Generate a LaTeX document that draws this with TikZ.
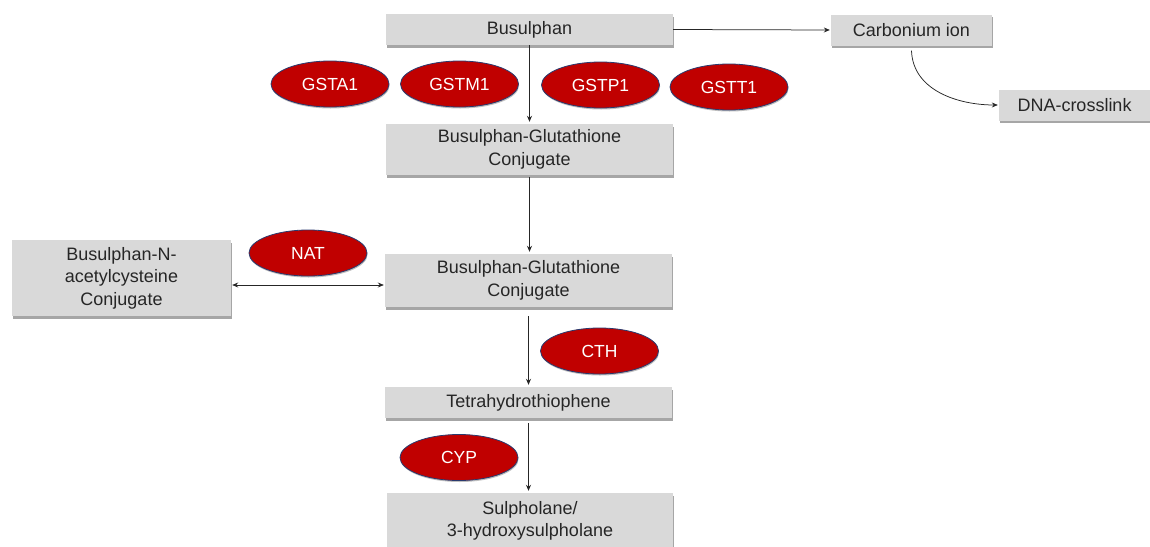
\documentclass[tikz,border=0pt]{standalone}
\usepackage{fontspec}
\setmainfont{Liberation Sans}
\usetikzlibrary{shapes.geometric,shadows,arrows.meta}
\definecolor{boxfill}{HTML}{D9D9D9}
\definecolor{boxtext}{HTML}{262626}
\definecolor{enzred}{HTML}{C00000}
\definecolor{enzline}{HTML}{2A3A6E}
\begin{document}
\begin{tikzpicture}[x=1pt,y=-1pt,
  pbox/.style={rectangle, fill=boxfill, text=boxtext, align=center, inner sep=0pt,
    font=\fontsize{18}{22.5}\selectfont,
    drop shadow={shadow xshift=0.8pt, shadow yshift=-2.8pt, fill=black, opacity=0.35}},
  enz/.style={ellipse, fill=enzred, draw=enzline, line width=0.8pt, text=white,
    inner sep=0pt, minimum width=118pt, minimum height=46pt,
    font=\fontsize{17.5}{21}\selectfont,
    drop shadow={shadow xshift=0.6pt, shadow yshift=-1.5pt, fill=black, opacity=0.25}},
  arr/.style={draw=black!85, line width=0.75pt, -{Stealth[length=6pt,width=5pt]}},
  arrb/.style={draw=black!85, line width=0.75pt, {Stealth[length=6pt,width=5pt]}-{Stealth[length=6pt,width=5pt]}}]
\useasboundingbox (0,0) rectangle (1150,546);
% boxes
\node[pbox, minimum width=287pt, minimum height=31pt] (bus) at (529.5,29.5) {Busulphan};
\node[pbox, minimum width=161pt, minimum height=31pt] (carb) at (911.5,30) {Carbonium ion};
\node[pbox, minimum width=151pt, minimum height=31pt] (dna) at (1074.5,105) {DNA-crosslink};
\node[pbox, minimum width=287pt, minimum height=51pt] (bgc1) at (529.5,149.5) {Busulphan-Glutathione\\Conjugate};
\node[pbox, minimum width=287pt, minimum height=53pt] (bgc2) at (528.5,280.5) {Busulphan-Glutathione\\Conjugate};
\node[pbox, minimum width=219pt, minimum height=76pt] (nac) at (121.5,278) {Busulphan-N-\\acetylcysteine\\Conjugate};
\node[pbox, minimum width=287pt, minimum height=31pt] (tht) at (528.5,402.5) {Tetrahydrothiophene};
\node[pbox, minimum width=286pt, minimum height=56pt] (sul) at (530,521) {Sulpholane/\\3-hydroxysulpholane};
% enzymes
\node[enz] (gsta) at (330,84) {GSTA1};
\node[enz] (gstm) at (459.5,84) {GSTM1};
\node[enz] (gstp) at (600.5,85) {GSTP1};
\node[enz] (gstt) at (729,87) {GSTT1};
\node[enz] (nat) at (308,253) {NAT};
\node[enz] (cth) at (599.5,351) {CTH};
\node[enz] (cyp) at (459,457.5) {CYP};
% connectors
\draw[arr, shorten >=2pt] (bus.south) -- (bus.south |- bgc1.north);
\draw[arr, shorten <=2pt, shorten >=2pt] (bgc1.south) -- (bgc1.south |- bgc2.north);
\draw[arr, shorten <=9pt, shorten >=2pt] (bgc2.south) -- (bgc2.south |- tht.north);
\draw[arr, shorten <=5pt, shorten >=2pt] (tht.south) -- (tht.south |- sul.north);
\draw[arrb, shorten <=1pt, shorten >=1pt] ([yshift=-7pt]nac.east) -- ([yshift=-7pt]nac.east -| bgc2.west);
\draw[arr, shorten >=1pt] (bus.east) -- (carb.west);
\draw[arr, shorten >=1pt] ([yshift=-5pt]carb.south) to[out=-88,in=180] (dna.west);
\end{tikzpicture}
\end{document}
